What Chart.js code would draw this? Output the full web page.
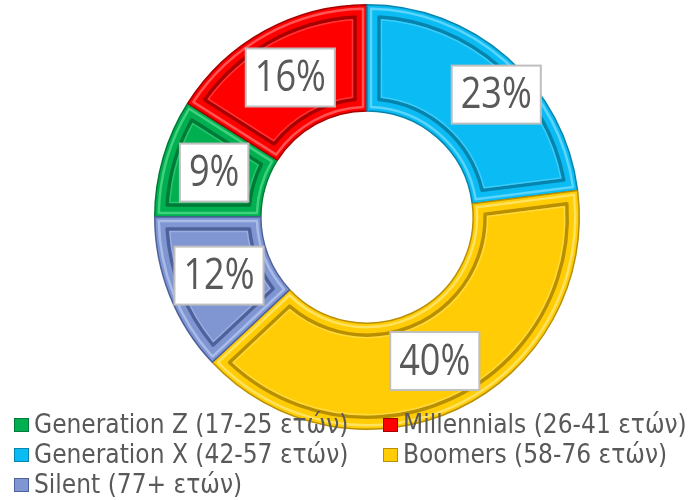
<!DOCTYPE html>
<html lang="el">
<head>
<meta charset="UTF-8">
<title>Generations doughnut</title>
<script src="https://cdn.jsdelivr.net/npm/chart.js"></script>
<style>
  html,body{margin:0;padding:0;background:#fff;}
  #wrap{width:689px;height:500px;position:relative;}
</style>
</head>
<body>
<div id="wrap"><canvas id="chart" width="689" height="500"></canvas></div>
<script>
// data
const labels = ['Generation Z (17-25 ετών)', 'Millennials (26-41 ετών)', 'Generation X (42-57 ετών)', 'Boomers (58-76 ετών)', 'Silent (77+ ετών)'];
const shares = [9, 16, 23, 40, 12];
const colors = ['#00B050', '#FF0000', '#0ABCF3', '#FFCC05', '#7F96D3'];
const edgeColors = ['#007A38', '#A80000', '#0585AD', '#B88F00', '#4E619A'];
const lightColors = ['#4FD98A', '#FF6A6A', '#6FDBFF', '#FFE777', '#B4C4EC'];
// label nudges (Excel moved the 23% box outward a bit)
const labelShiftX = [0, 0, 24, 0, 0];
const labelShiftY = [0, 0, -3, 0, 0];

// bevel look drawn over each slice
const bevel = {
  id: 'bevel',
  afterDatasetsDraw(chart) {
    const ctx = chart.ctx;
    chart.getDatasetMeta(0).data.forEach((arc, i) => {
      const {x, y, startAngle, endAngle, innerRadius, outerRadius} = arc.getProps(['x','y','startAngle','endAngle','innerRadius','outerRadius'], true);
      const path = (d) => {
        const oR = outerRadius - d, iR = innerRadius + d;
        ctx.beginPath();
        ctx.arc(x, y, oR, startAngle + d / oR, endAngle - d / oR);
        ctx.arc(x, y, iR, endAngle - d / iR, startAngle + d / iR, true);
        ctx.closePath();
      };
      ctx.save();
      ctx.lineJoin = 'round';
      path(4); ctx.strokeStyle = lightColors[i]; ctx.globalAlpha = 0.8; ctx.lineWidth = 2.5; ctx.stroke();
      ctx.globalAlpha = 1;
      path(12); ctx.strokeStyle = edgeColors[i]; ctx.lineWidth = 3.5; ctx.stroke();
      path(14.5); ctx.strokeStyle = lightColors[i]; ctx.globalAlpha = 0.5; ctx.lineWidth = 1.5; ctx.stroke();
      ctx.restore();
    });
  }
};

// white value boxes
const valueBoxes = {
  id: 'valueBoxes',
  afterDatasetsDraw(chart) {
    const ctx = chart.ctx;
    const squeeze = 0.82;
    ctx.save();
    ctx.font = '44px "Open Sans", sans-serif';
    ctx.textAlign = 'center';
    ctx.textBaseline = 'middle';
    chart.getDatasetMeta(0).data.forEach((arc, i) => {
      const p = arc.tooltipPosition();
      const cx = p.x + labelShiftX[i], cy = p.y + labelShiftY[i];
      const txt = shares[i] + '%';
      const w = ctx.measureText(txt).width * squeeze + 18, h = 58;
      ctx.fillStyle = '#fff';
      ctx.fillRect(cx - w / 2, cy - h / 2, w, h);
      ctx.strokeStyle = '#BFBFBF';
      ctx.lineWidth = 2;
      ctx.strokeRect(cx - w / 2, cy - h / 2, w, h);
      ctx.save();
      ctx.translate(cx, cy + 1);
      ctx.scale(squeeze, 1);
      ctx.fillStyle = '#595959';
      ctx.fillText(txt, 0, 0);
      ctx.restore();
    });
    ctx.restore();
  }
};

// legend on top of the ring, two columns
const bottomLegend = {
  id: 'bottomLegend',
  afterDraw(chart) {
    const ctx = chart.ctx;
    const colX = [14, 383], rowY = [425, 455, 485];
    ctx.save();
    ctx.font = '26px "DejaVu Sans Condensed", sans-serif';
    ctx.textBaseline = 'middle';
    labels.forEach((lab, i) => {
      const x = colX[i % 2], y = rowY[Math.floor(i / 2)];
      ctx.fillStyle = colors[i];
      ctx.fillRect(x, y - 7, 15, 14);
      ctx.strokeStyle = edgeColors[i];
      ctx.lineWidth = 1;
      ctx.strokeRect(x + 0.5, y - 6.5, 14, 13);
      ctx.fillStyle = '#595959';
      ctx.fillText(lab, x + 20, y + 1);
    });
    ctx.restore();
  }
};

new Chart(document.getElementById('chart'), {
  type: 'doughnut',
  data: {
    labels: labels,
    datasets: [{
      data: shares,
      backgroundColor: colors,
      borderColor: edgeColors,
      borderWidth: 1.5
    }]
  },
  options: {
    responsive: false,
    animation: false,
    rotation: 270,
    cutout: '50%',
    layout: {padding: {left: 154, right: 109, top: 4, bottom: 70}},
    plugins: {legend: {display: false}, tooltip: {enabled: false}}
  },
  plugins: [bevel, valueBoxes, bottomLegend]
});
</script>
</body>
</html>
